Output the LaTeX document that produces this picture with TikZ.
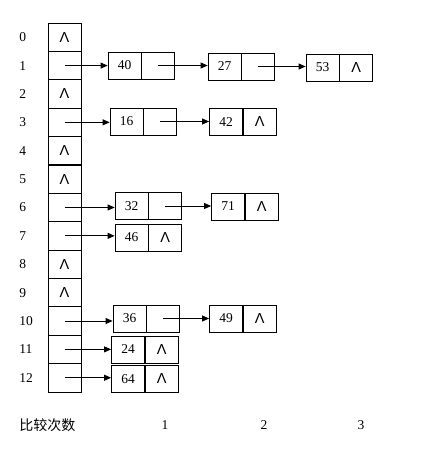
\documentclass[tikz,border=0pt]{standalone}
\usepackage{fontspec}
\setmainfont{Liberation Serif}
\newfontfamily\cjk{Noto Sans CJK SC}
\newfontfamily\sym{Liberation Sans}
\newcommand{\nil}{{\sym\fontsize{14.5}{16}\selectfont Λ}}
\usepackage{tikz}
\usetikzlibrary{arrows.meta, positioning}

\begin{document}
\begin{tikzpicture}[x=1pt,y=-1pt,line width=0.8pt,
        every node/.style={font=\fontsize{13.5}{15}\selectfont},
        cell/.style={draw,minimum width=33pt,minimum height=28.4pt,inner sep=0pt},
        datum/.style={draw,minimum width=33pt,minimum height=27pt,inner sep=0pt},
        ptr/.style={draw,minimum width=33pt,minimum height=27pt,inner sep=0pt,right=0pt of #1},
        link/.style={-{Triangle[length=7pt,width=6pt]}}]
        \useasboundingbox (0,0) rectangle (425,471);
        % hash table
        \foreach \i/\s in {0/\nil,1/{},2/\nil,3/{},4/\nil,5/\nil,6/{},
                7/{},8/\nil,9/\nil,10/{},11/{},12/{}} {
            \node[cell] (t\i) at (64.5,{23+28.38*(\i+0.5)}) {\s};
            \node[anchor=west,inner sep=0pt] (l\i) at (19,{23+28.38*(\i+0.5)}) {\i};
        }
        % chains
        \node[datum] (n40) at (124.5,65.5) {40};
        \node[ptr=n40] (n40p) {};
        \node[datum] (n27) at (224.5,66.5) {27};
        \node[ptr=n27] (n27p) {};
        \node[datum] (n53) at (322.5,67.5) {53};
        \node[ptr=n53] (n53p) {\nil};
        \node[datum] (n16) at (126.5,121.5) {16};
        \node[ptr=n16] (n16p) {};
        \node[datum] (n42) at (226,122) {42};
        \node[ptr=n42] (n42p) {\nil};
        \node[datum] (n32) at (131.5,206) {32};
        \node[ptr=n32] (n32p) {};
        \node[datum] (n71) at (228,206.5) {71};
        \node[ptr=n71] (n71p) {\nil};
        \node[datum] (n46) at (131.5,237.5) {46};
        \node[ptr=n46] (n46p) {\nil};
        \node[datum] (n36) at (129.5,318.5) {36};
        \node[ptr=n36] (n36p) {};
        \node[datum] (n49) at (226,318.5) {49};
        \node[ptr=n49] (n49p) {\nil};
        \node[datum] (n24) at (128,349.5) {24};
        \node[ptr=n24] (n24p) {\nil};
        \node[datum] (n64) at (128,379) {64};
        \node[ptr=n64] (n64p) {\nil};
        % pointers
        \foreach \i/\n in {1/n40,3/n16,6/n32,7/n46,10/n36,11/n24,12/n64}
            \draw[link] (t\i.center) -- (t\i.center -| \n.west);
        \foreach \a/\b in {n40p/n27,n27p/n53,n16p/n42,n32p/n71,n36p/n49}
            \draw[link] (\a.center) -- (\a.center -| \b.west);
        % comparisons
        \node (cmp) at (47.5,425) {\cjk\fontsize{14}{16}\selectfont 比较次数};
        \node (c1) at (165,425) {1};
        \node (c2) at (264,425) {2};
        \node (c3) at (361,425) {3};
\end{tikzpicture}
\end{document}
